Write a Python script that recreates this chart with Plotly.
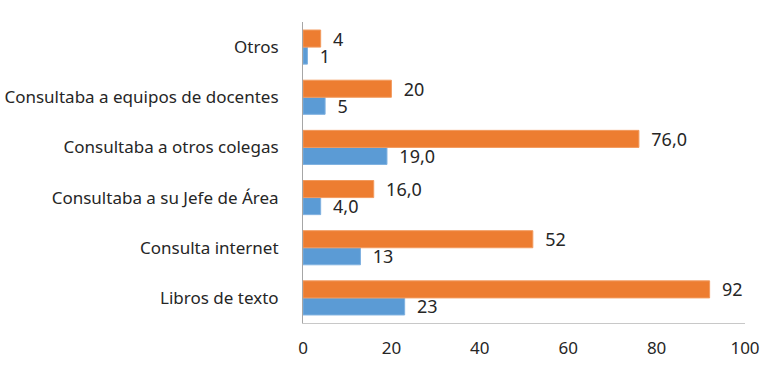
import plotly.graph_objects as go

categories = ["Libros de texto", "Consulta internet", "Consultaba a su Jefe de Área",
              "Consultaba a otros colegas", "Consultaba a equipos de docentes", "Otros"]
orange_values = [92, 52, 16.0, 76.0, 20, 4]
orange_labels = ["92", "52", "16,0", "76,0", "20", "4"]
blue_values = [23, 13, 4.0, 19.0, 5, 1]
blue_labels = ["23", "13", "4,0", "19,0", "5", "1"]
x_ticks = [0, 20, 40, 60, 80, 100]

font_family = "Noto Sans, Open Sans, sans-serif"
text_color = "#262626"

fig = go.Figure()
fig.add_trace(go.Bar(
    y=categories, x=blue_values, orientation="h", name="Serie 1",
    marker=dict(color="#5B9BD5", line=dict(color="#7FB1E0", width=1)),
    text=blue_labels, texttemplate="  %{text}", textposition="outside",
    constraintext="none", cliponaxis=False,
    textfont=dict(family=font_family, size=18, color=text_color),
))
fig.add_trace(go.Bar(
    y=categories, x=orange_values, orientation="h", name="Serie 2",
    marker=dict(color="#ED7D31", line=dict(color="#F29A5E", width=1)),
    text=orange_labels, texttemplate="  %{text}", textposition="outside",
    constraintext="none", cliponaxis=False,
    textfont=dict(family=font_family, size=18, color=text_color),
))

fig.update_layout(
    width=771, height=365,
    margin=dict(l=303, r=26, t=22, b=42),
    barmode="group", bargap=0.32, bargroupgap=0,
    showlegend=False,
    plot_bgcolor="white", paper_bgcolor="white",
    font=dict(family=font_family, size=16, color=text_color),
)
fig.update_xaxes(
    range=[0, 100], tickvals=x_ticks, showgrid=False, zeroline=False,
    showline=True, linecolor="#c8c8c8", linewidth=1, automargin=False,
    ticks="outside", ticklen=10, tickcolor="rgba(0,0,0,0)",
    tickfont=dict(family=font_family, size=17, color=text_color),
)
fig.update_yaxes(
    showgrid=False, zeroline=False, automargin=False,
    showline=True, linecolor="#a6a6a6", linewidth=1,
    ticks="outside", ticklen=20, tickcolor="rgba(0,0,0,0)",
    tickfont=dict(family=font_family, size=17, color=text_color),
)

fig.write_html(
    "out.html",
    config={"displayModeBar": False},
    post_script="document.body.style.margin='0';document.body.style.overflow='hidden';",
)
